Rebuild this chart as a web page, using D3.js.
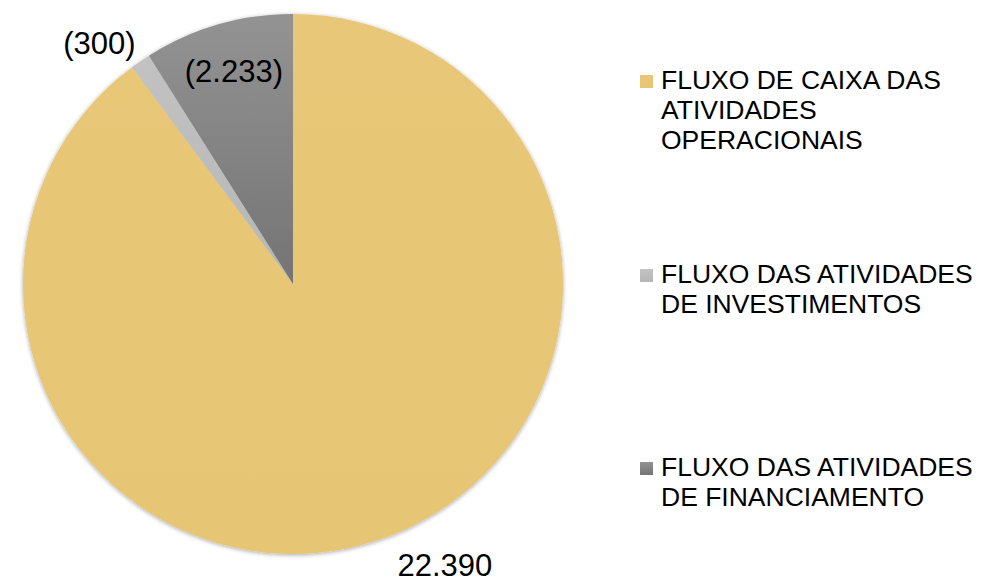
<!DOCTYPE html>
<html>
<head>
<meta charset="utf-8">
<script src="https://cdn.jsdelivr.net/npm/d3@7"></script>
<style>
  body { margin: 0; background: #fff; }
  svg { display: block; font-family: "Liberation Sans", Arial, sans-serif; }
</style>
</head>
<body>
<svg id="chart" width="981" height="582"></svg>
<script>
// chart data
const categories = [
    "FLUXO DE CAIXA DAS ATIVIDADES OPERACIONAIS",
    "FLUXO DAS ATIVIDADES DE INVESTIMENTOS",
    "FLUXO DAS ATIVIDADES DE FINANCIAMENTO"
];
const values = [22390, 300, 2233];
const valueLabels = ["22.390", "(300)", "(2.233)"];
const legendLines = [
    ["FLUXO DE CAIXA DAS", "ATIVIDADES", "OPERACIONAIS"],
    ["FLUXO DAS ATIVIDADES", "DE INVESTIMENTOS"],
    ["FLUXO DAS ATIVIDADES", "DE FINANCIAMENTO"]
];

let svg = d3.select("#chart");
let cx = 293, cy = 284, radius = 270;

// colors (top / bottom of gradient)
let fills = [["#e8c778", "#e6c574"], ["#c2c2c2", "#b6b6b6"], ["#939393", "#747474"]];

let defs = svg.append("defs");
fills.forEach((f, i) => {
    let g = defs.append("linearGradient")
        .attr("id", "grad" + i)
        .attr("x1", 0).attr("y1", 0).attr("x2", 0).attr("y2", 1);
    g.append("stop").attr("offset", "0%").attr("stop-color", f[0]);
    g.append("stop").attr("offset", "100%").attr("stop-color", f[1]);
});
let shadow = defs.append("filter").attr("id", "shadow")
    .attr("x", "-10%").attr("y", "-10%").attr("width", "120%").attr("height", "120%");
shadow.append("feDropShadow")
    .attr("dx", 0).attr("dy", 1).attr("stdDeviation", 2)
    .attr("flood-color", "#000").attr("flood-opacity", 0.35);

let pie = d3.pie().sort(null).value(d => d)
    .startAngle(0).endAngle(2 * Math.PI);
let arcs = pie(values);
let arc = d3.arc().innerRadius(0).outerRadius(radius);

let group = svg.append("g")
    .attr("transform", "translate(" + cx + "," + cy + ")");

group.append("g")
    .attr("filter", "url(#shadow)")
    .selectAll("path")
    .data(arcs)
    .enter()
    .append("path")
    .attr("d", arc)
    .attr("fill", (d, i) => "url(#grad" + i + ")");

// label placement: radius of the anchor and a nudge, per slice
let labelRadius = [280, 300, 220];
let labelNudge = [[64, 15], [-24, 6], [2, -2]];

group.selectAll(".label")
    .data(arcs)
    .enter()
    .append("text")
    .attr("class", "label")
    .attr("transform", (d, i) => {
        let a = (d.startAngle + d.endAngle) / 2;
        let x = Math.sin(a) * labelRadius[i] + labelNudge[i][0];
        let y = -Math.cos(a) * labelRadius[i] + labelNudge[i][1];
        return "translate(" + x + "," + y + ")";
    })
    .attr("text-anchor", "middle")
    .attr("dy", "0.36em")
    .attr("font-size", 31)
    .attr("fill", "#000")
    .text((d, i) => valueLabels[i]);

// legend
let legendTop = [89, 283, 476];
let legend = svg.append("g").attr("class", "legend");
categories.forEach((c, i) => {
    let item = legend.append("g");
    item.append("rect")
        .attr("x", 640).attr("y", legendTop[i] - 14)
        .attr("width", 13).attr("height", 13)
        .attr("fill", "url(#grad" + i + ")");
    let t = item.append("text")
        .attr("x", 661).attr("y", legendTop[i])
        .attr("font-size", 26.5)
        .attr("fill", "#000");
    legendLines[i].forEach((line, j) => {
        t.append("tspan")
            .attr("x", 661)
            .attr("y", legendTop[i] + j * 30)
            .text(line);
    });
});
</script>
</body>
</html>
